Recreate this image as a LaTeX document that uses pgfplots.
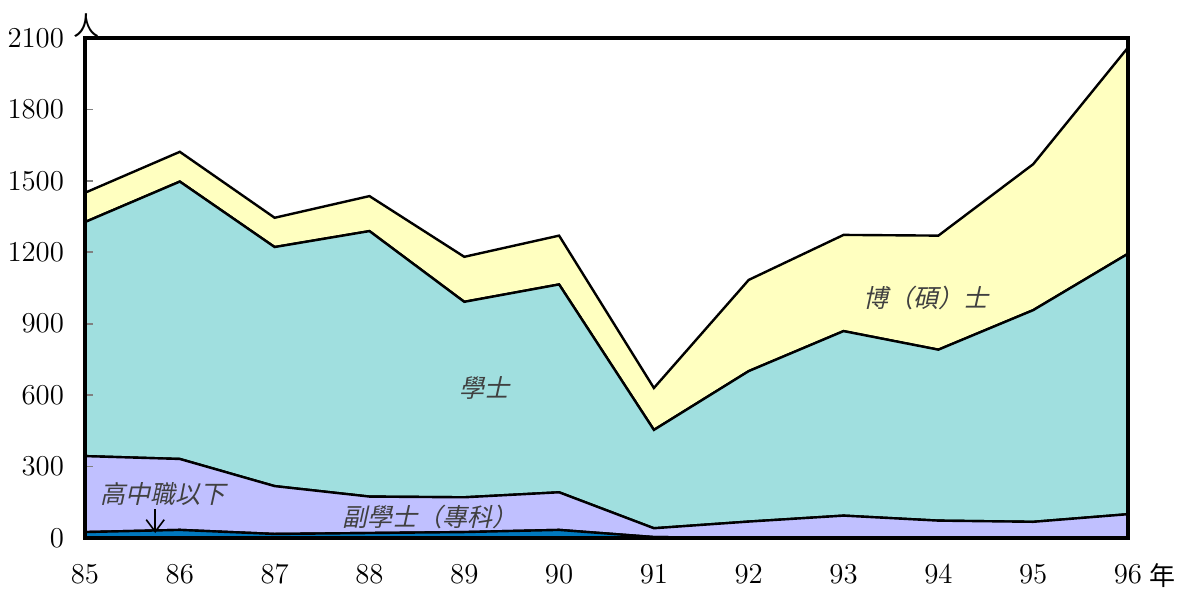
\documentclass[border=0pt]{standalone}
\usepackage{fontspec}
\usepackage{pgfplots}
\pgfplotsset{compat=1.18}
\usetikzlibrary{arrows.meta}
\newfontfamily\cjk{Noto Sans CJK TC}
\definecolor{cHigh}{HTML}{0078BE}
\definecolor{cAssoc}{HTML}{C0C0FF}
\definecolor{cBach}{HTML}{A0DFDF}
\definecolor{cGrad}{HTML}{FFFFC0}
\tikzset{lbl/.style={font=\cjk\fontsize{12.5}{12.5}\selectfont, text=black!75, xslant=0.22}}

% values per year 85..96 (persons)
\pgfplotstableread{
year high assoc bach grad
85   25   319   983  123
86   34   298   1165 125
87   17   201   1004 123
88   21   153   1115 147
89   25   146   821  189
90   34   158   873  205
91   4    37    413  176
92   0    69    632  383
93   0    94    775  404
94   0    73    718  479
95   0    68    889  613
96   0    100   1094 866
}\datatable

\begin{document}
\begin{tikzpicture}
\begin{axis}[
    name=ax,
    scale only axis,
    width=521.5pt, height=250pt,
    xmin=85, xmax=96, ymin=0, ymax=2100,
    xtick={85,...,96}, ytick={0,300,...,2100},
    stack plots=y,
    axis on top,
    clip=false,
    axis line style={line width=2pt},
    tick align=inside,
    ytick pos=left,
    xtick style={draw=none},
    ytick style={line width=0.8pt},
    major tick length=4pt,
    tick label style={font=\fontsize{14}{14}\selectfont},
    xticklabel style={yshift=-10pt},
    yticklabel style={xshift=-7pt},
    scaled ticks=false,
    /pgf/number format/1000 sep={},
]
\addplot[fill=cHigh, draw=black, line width=1.2pt] table[x=year, y=high] {\datatable} \closedcycle;
\addplot[fill=cAssoc, draw=black, line width=1.2pt] table[x=year, y=assoc] {\datatable} \closedcycle;
\addplot[fill=cBach, draw=black, line width=1.2pt] table[x=year, y=bach] {\datatable} \closedcycle;
\addplot[fill=cGrad, draw=black, line width=1.2pt] table[x=year, y=grad] {\datatable} \closedcycle;

\coordinate (pBach) at (rel axis cs:0.3855,0.30);
\coordinate (pGrad) at (rel axis cs:0.808,0.48);
\coordinate (pAssoc) at (rel axis cs:0.333,0.043);
\coordinate (pHigh) at (rel axis cs:0.0764,0.088);
\coordinate (aTop) at (rel axis cs:0.0673,0.058);
\coordinate (aBot) at (rel axis cs:0.0673,0.010);
\end{axis}
\node[lbl] at (pBach) {學士};
\node[lbl] at (pGrad) {博（碩）士};
\node[lbl] at (pAssoc) {副學士（專科）};
\node[lbl] at (pHigh) {高中職以下};
\draw[-{Straight Barb[length=6pt,width=9pt]}, line width=0.8pt] (aTop) -- (aBot);
\node[font=\cjk\fontsize{13}{13}\selectfont] at (ax.north west) [xshift=1pt, yshift=6pt] {人};
\node[font=\cjk\fontsize{13}{13}\selectfont] at (ax.south east) [xshift=17pt, yshift=-19pt] {年};
\pgfresetboundingbox
\path ([xshift=-42.5pt,yshift=-26pt]ax.south west) rectangle ([xshift=27.5pt,yshift=19pt]ax.north east);
\end{tikzpicture}
\end{document}
